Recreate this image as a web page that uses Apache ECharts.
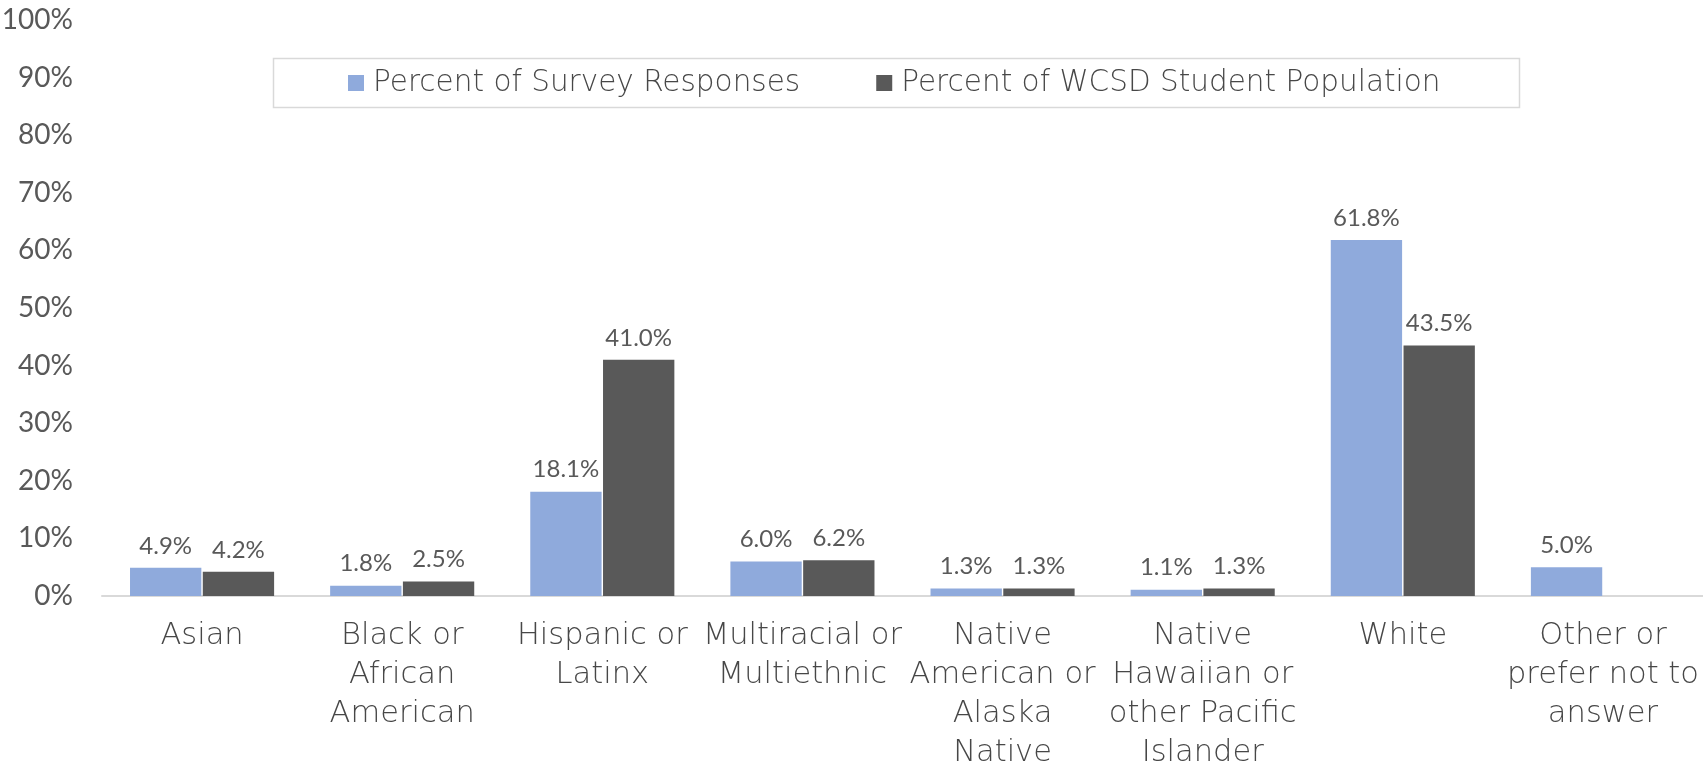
<!DOCTYPE html>
<html><head><meta charset="utf-8">
<script src="https://cdn.jsdelivr.net/npm/echarts@6/dist/echarts.min.js"></script>
<style>html,body{margin:0;padding:0;background:#fff}#c{width:1703px;height:767px}</style>
</head><body><div id="c"></div>
<script>
const categories = ["Asian","Black or\nAfrican\nAmerican","Hispanic or\nLatinx","Multiracial or\nMultiethnic","Native\nAmerican or\nAlaska\nNative","Native\nHawaiian or\nother Pacific\nIslander","White","Other or\nprefer not to\nanswer"];
const surveyResponses = [4.9, 1.8, 18.1, 6.0, 1.3, 1.1, 61.8, 5.0];
const studentPopulation = [4.2, 2.5, 41.0, 6.2, 1.3, 1.3, 43.5, null];
const seriesNames = ["Percent of Survey Responses", "Percent of WCSD Student Population"];

const NUMFONT = "Lato";
const WORDFONT = "DejaVu Sans";
const TXT = "#595959";
const WTXT = "#474747";
const chart = echarts.init(document.getElementById('c'));
const lbl = {show:true, position:'top', distance:10, color:TXT, fontFamily:NUMFONT, fontSize:24,
  formatter: p => p.value == null ? '' : p.value.toFixed(1) + '%'};
chart.setOption({
  animation:false,
  textStyle:{fontFamily:NUMFONT},
  graphic:[{type:'rect', left:271, top:56, shape:{width:1246, height:49}, style:{fill:'none', stroke:'#d9d9d9', lineWidth:1.5}, z:0}],
  legend:{top:63, left:343, itemWidth:16, itemHeight:16, itemGap:76, icon:'rect',
    textStyle:{color:WTXT, fontSize:29.5, fontFamily:WORDFONT, fontWeight:200, padding:[0,0,0,4]}, data:seriesNames},
  grid:{left:102, right:0, top:20, bottom:171, containLabel:false, outerBoundsMode:'none'},
  xAxis:{type:'category', data:categories,
    axisLine:{lineStyle:{color:'#d9d9d9', width:2}}, axisTick:{show:false},
    axisLabel:{color:WTXT, fontSize:30.5, fontFamily:WORDFONT, fontWeight:200, lineHeight:39, margin:21, interval:0}},
  yAxis:{type:'value', min:0, max:100, interval:10,
    axisLine:{show:false}, axisTick:{show:false}, splitLine:{show:false},
    axisLabel:{formatter:'{value}%', color:TXT, fontSize:28, fontFamily:NUMFONT, margin:29}},
  series:[
    {name:seriesNames[0], type:'bar', data:surveyResponses, barCategoryGap:'28%', barGap:'2%',
      itemStyle:{color:'#8FAADC'}, label:lbl},
    {name:seriesNames[1], type:'bar', data:studentPopulation,
      itemStyle:{color:'#595959'}, label:lbl}
  ]
});
</script></body></html>
